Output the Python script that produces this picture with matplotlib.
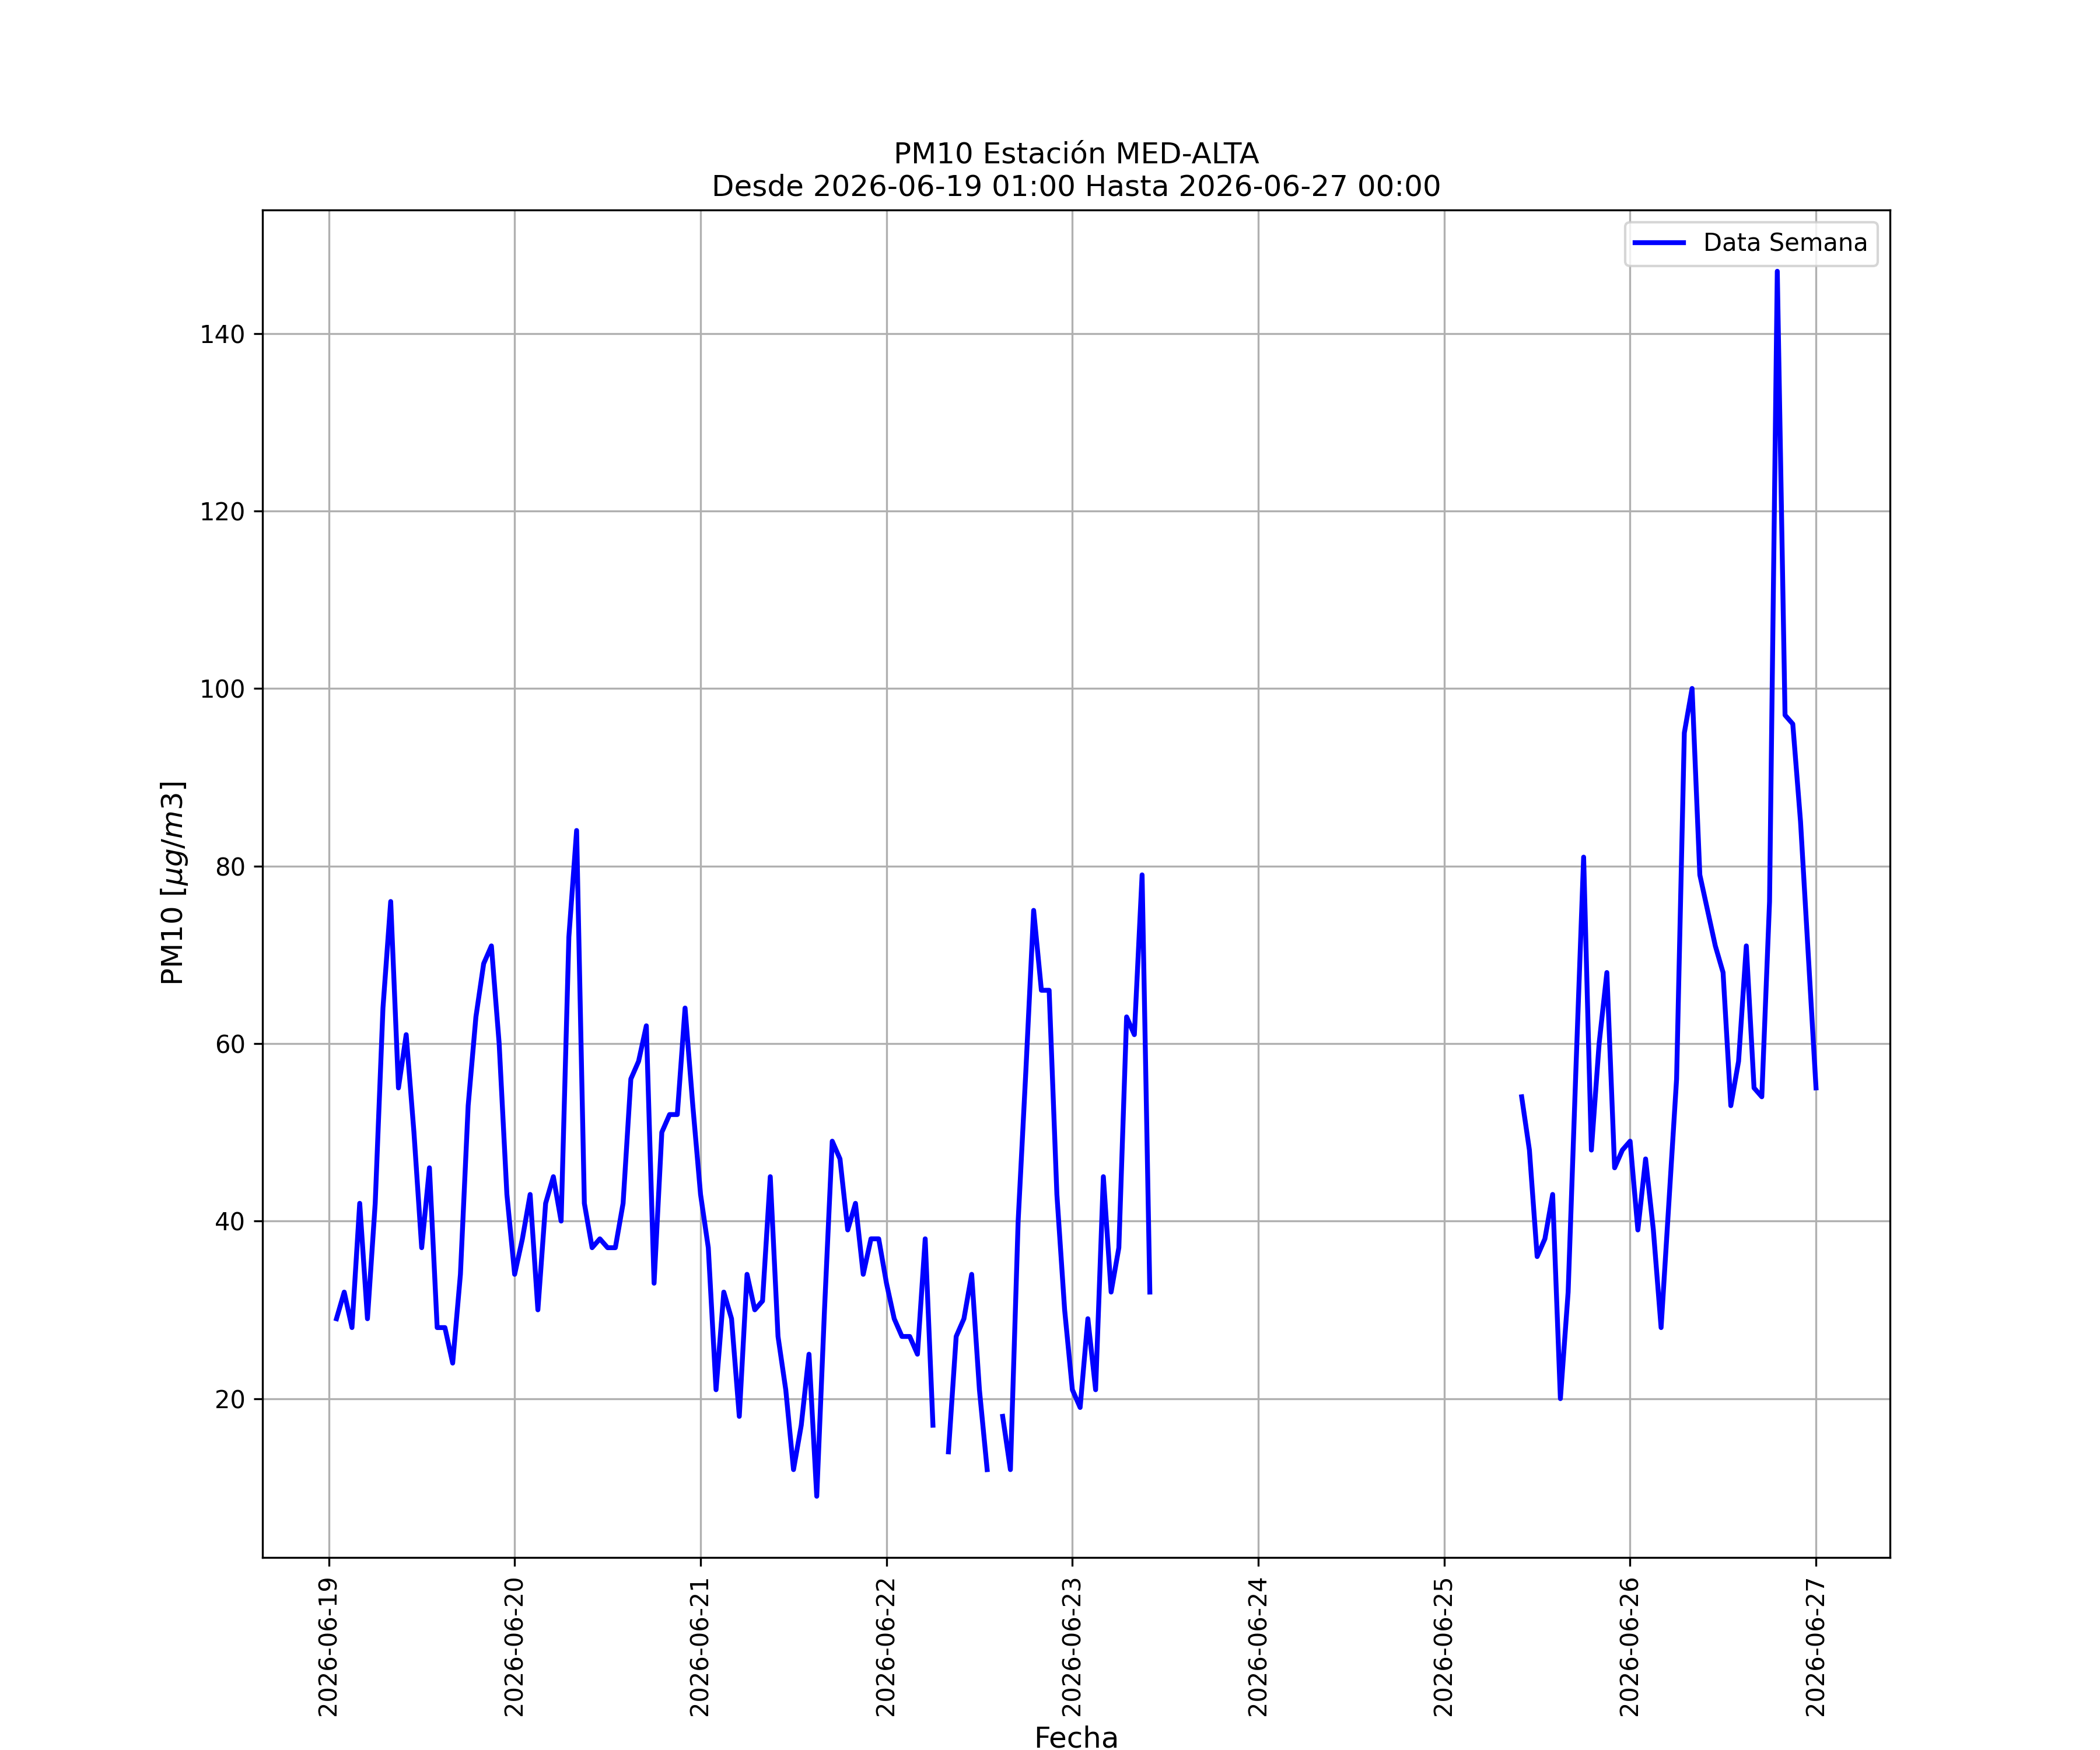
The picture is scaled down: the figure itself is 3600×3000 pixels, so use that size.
import numpy as np
import pandas as pd
import matplotlib
matplotlib.use("Agg")
from matplotlib import pyplot as plt
import matplotlib.dates as mdates

nan = np.nan

# hourly PM10 values, from 2026-06-19 01:00 to 2026-06-27 00:00
dia_19 = [29, 32, 28, 42, 29, 42, 64, 76, 55, 61, 50, 37,
          46, 28, 28, 24, 34, 53, 63, 69, 71, 60, 43, 34]
dia_20 = [38, 43, 30, 42, 45, 40, 72, 84, 42, 37, 38, 37,
          37, 42, 56, 58, 62, 33, 50, 52, 52, 64, 53, 43]
dia_21 = [37, 21, 32, 29, 18, 34, 30, 31, 45, 27, 21, 12,
          17, 25, 9, 30, 49, 47, 39, 42, 34, 38, 38, 33]
dia_22 = [29, 27, 27, 25, 38, 17, nan, 14, 27, 29, 34, 21,
          12, nan, 18, 12, 40, 57, 75, 66, 66, 43, 30, 21]
dia_23 = [19, 29, 21, 45, 32, 37, 63, 61, 79, 32, nan, nan,
          nan, nan, nan, nan, nan, nan, nan, nan, nan, nan, nan, nan]
dia_24 = [nan] * 24
dia_25 = [nan, nan, nan, nan, nan, nan, nan, nan, nan, 54, 48, 36,
          38, 43, 20, 32, 57, 81, 48, 60, 68, 46, 48, 49]
dia_26 = [39, 47, 39, 28, 42, 56, 95, 100, 79, 75, 71, 68,
          53, 58, 71, 55, 54, 76, 147, 97, 96, 85, 70, 55]

valores = dia_19 + dia_20 + dia_21 + dia_22 + dia_23 + dia_24 + dia_25 + dia_26
fechas = pd.date_range("2026-06-19 01:00", "2026-06-27 00:00", freq="h")

estacion = "MED-ALTA"
desde = "2026-06-19 01:00"
hasta = "2026-06-27 00:00"

fig = plt.figure(figsize=(12, 10), dpi=300)
ax = fig.add_subplot(111)
ax.plot(fechas, valores, color="blue", linewidth=2, label="Data Semana")
ax.set_title(f"PM10 Estación {estacion}\nDesde {desde} Hasta {hasta}", fontsize=12)
ax.set_xlabel("Fecha", fontsize=12)
ax.set_ylabel(r"PM10 [$\mu g/m3$]", fontsize=12)
ax.xaxis.set_major_locator(mdates.DayLocator())
ax.xaxis.set_major_formatter(mdates.DateFormatter("%Y-%m-%d"))
plt.setp(ax.get_xticklabels(), rotation=90)
ax.grid(True)
ax.legend(loc="upper right")
fig.savefig("out.png", dpi=300)
